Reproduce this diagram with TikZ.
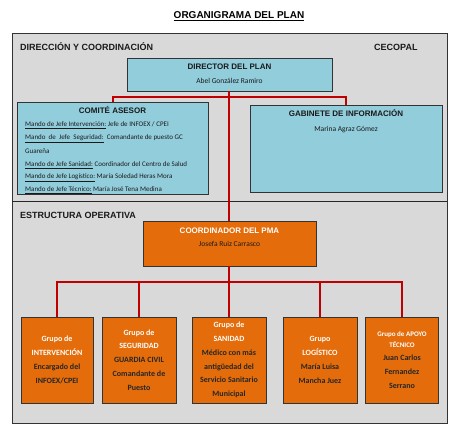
\documentclass[tikz,border=0pt]{standalone}
\usepackage{fontspec}
\setmainfont{Carlito}
\newfontfamily\arialf{Liberation Sans}
\definecolor{panelgray}{HTML}{D9D9D9}
\definecolor{boxblue}{HTML}{92CDDC}
\definecolor{boxorange}{HTML}{E46C0A}
\definecolor{linkred}{HTML}{C00000}
\definecolor{ink}{HTML}{1A1A1A}
\tikzset{
  hdr/.style={font=\arialf\bfseries\fontsize{9}{10}\selectfont, text=ink, inner sep=0pt, anchor=mid west},
  boxhdr/.style={font=\arialf\bfseries\fontsize{8}{9}\selectfont, text=ink, inner sep=0pt, anchor=mid},
  boxtxt/.style={font=\fontsize{7.5}{9}\selectfont, text=ink, inner sep=0pt, anchor=mid},
  listtxt/.style={font=\fontsize{7}{8}\selectfont, text=ink, inner sep=0pt, anchor=mid west},
  bluebox/.style={draw=black!80, line width=0.8pt, fill=boxblue, inner sep=0pt},
  orbox/.style={draw=black!80, line width=0.8pt, fill=boxorange, inner sep=0pt, align=center,
    text=black!85, font=\bfseries\fontsize{8}{13.8}\selectfont},
  link/.style={draw=linkred, line width=2pt}
}
\newcommand{\wht}[1]{\textcolor{white}{#1}}
\newcommand{\smwht}[1]{\textcolor{white}{\fontsize{7}{11}\selectfont #1}}
\begin{document}
\begin{tikzpicture}[x=1pt,y=-1pt]
\useasboundingbox (0,0) rectangle (468,437);
% title
\node[font=\arialf\bfseries\fontsize{10}{12}\selectfont, inner sep=0pt, anchor=mid] (title) at (239,16) {\underline{ORGANIGRAMA DEL PLAN}};
% panel
\node[draw=black!80, line width=1pt, fill=panelgray, minimum width=435pt, minimum height=390pt, inner sep=0pt] (panel) at (229.5,228) {};
\coordinate (divl) at (12,201);
\coordinate (divr) at (447,201);
\draw[black!85, line width=0.8pt] (divl) -- (divr);
\node[hdr] (dyc) at (20,48) {DIRECCIÓN Y COORDINACIÓN};
\node[hdr] (cecopal) at (374,48.5) {CECOPAL};
\node[hdr] (eo) at (20,216) {ESTRUCTURA OPERATIVA};
% top boxes
\node[bluebox, minimum width=205pt, minimum height=33pt] (dir) at (229.5,74.5) {};
\node[boxhdr] (dirt) at (229.5,67) {DIRECTOR DEL PLAN};
\node[boxtxt] (dirn) at (229.5,81) {Abel González Ramiro};
\node[bluebox, minimum width=191pt, minimum height=92pt] (comite) at (113,148) {};
\node[boxhdr] (comt) at (112.5,111) {COMITÉ ASESOR};
\node[listtxt] (l1) at (25,124) {\underline{Mando de Jefe Intervención:} Jefe de INFOEX / CPEI};
\node[listtxt] (l2) at (25,137.5) {\underline{Mando\ \ de\ \ Jefe\ \ Seguridad:}\ \ Comandante de puesto GC};
\node[listtxt] (l3) at (25,151) {Guareña};
\node[listtxt] (l4) at (25,164) {\underline{Mando de Jefe Sanidad:} Coordinador del Centro de Salud};
\node[listtxt] (l5) at (25,176.5) {\underline{Mando de Jefe Logístico:} María Soledad Heras Mora};
\node[listtxt] (l6) at (25,189) {\underline{Mando de Jefe Técnico:} María José Tena Medina};
\node[bluebox, minimum width=192pt, minimum height=87pt] (gab) at (346,148.5) {};
\node[boxhdr] (gabt) at (346,114) {GABINETE DE INFORMACIÓN};
\node[boxtxt] (gabn) at (346,129) {Marina Agraz Gómez};
% coordinator
\node[orbox, minimum width=173pt, minimum height=45pt] (coord) at (229.5,243.5) {};
\node[boxhdr, text=white] (coordt) at (229.5,231) {COORDINADOR DEL PMA};
\node[boxtxt] (coordn) at (229.5,244) {Josefa Ruiz Carrasco};
% groups
\node[orbox, minimum width=72pt, minimum height=86pt] (g1) at (57,360)
  {\wht{Grupo de}\\\wht{INTERVENCIÓN}\\Encargado del\\INFOEX/CPEI};
\node[orbox, minimum width=74pt, minimum height=86pt] (g2) at (139,360)
  {\wht{Grupo de}\\\wht{SEGURIDAD}\\GUARDIA CIVIL\\Comandante de\\Puesto};
\node[orbox, minimum width=74pt, minimum height=86pt] (g3) at (229,360)
  {\wht{Grupo de}\\\wht{SANIDAD}\\Médico con más\\antigüedad del\\Servicio Sanitario\\Municipal};
\node[orbox, minimum width=74pt, minimum height=86pt] (g4) at (320,360)
  {\wht{Grupo}\\\wht{LOGÍSTICO}\\María Luisa\\Mancha Juez};
\node[orbox, minimum width=73pt, minimum height=86pt] (g5) at (402,360)
  {\smwht{Grupo de APOYO}\\[-3pt]\smwht{TÉCNICO}\\Juan Carlos\\Fernandez\\Serrano};
% connectors
\coordinate (j1) at (229,97);
\coordinate (j2) at (229,282);
\draw[link] (j1 |- dir.south) -- (j1 |- coord.north);
\draw[link] (comite.north) |- (j1) -| (gab.north);
\draw[link] (coord.south -| j2) -- (g3.north);
\draw[link] (g1.north) |- (j2) -| (g5.north);
\draw[link] (g2.north) -- (g2.north |- j2);
\draw[link] (g4.north) -- (g4.north |- j2);
\end{tikzpicture}
\end{document}
